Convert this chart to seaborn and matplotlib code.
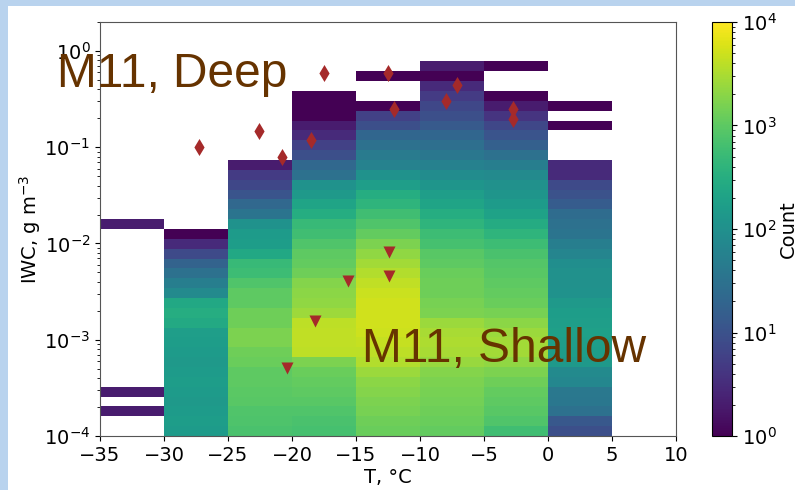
import numpy as np
import pandas as pd
import matplotlib
matplotlib.use("Agg")
import matplotlib.pyplot as plt
import seaborn as sns
from matplotlib.patches import Rectangle

# ---------------- data ----------------
# temperature bin edges (deg C)
t_edges = [-35, -30, -25, -20, -15, -10, -5, 0, 5]
# IWC bins: 42 log-spaced bins from 1e-4 to 2 g m-3
log_iwc_lo = -4.0
log_iwc_hi = np.log10(2.0)
n_iwc_bins = 42

# counts per IWC bin (lowest bin first) for each temperature column
counts_m35 = [0, 0, 2, 0, 2, 0, 0, 0, 0, 0, 0, 0, 0, 0, 0, 0, 0, 0, 0, 0, 0, 2]
counts_m30 = [150, 160, 150, 140, 150, 160, 150, 140, 150, 160, 170, 260, 300, 250,
              80, 50, 30, 18, 8, 3, 1]
counts_m25 = [700, 750, 800, 900, 950, 1000, 1000, 1200, 1300, 1600, 1600, 1300, 1300,
              1000, 1000, 800, 550, 500, 250, 160, 150, 110, 35, 22, 11, 7, 5, 2]
counts_m20 = [650, 700, 800, 900, 1000, 1100, 1200, 1600, 4000, 4200, 4200, 4000, 2600,
              2200, 2000, 1800, 1300, 1100, 1000, 800, 600, 500, 300, 220, 140, 110,
              30, 22, 9, 6, 3, 2, 1, 1, 1]
counts_m15 = [1200, 1300, 1500, 1600, 1800, 2000, 2500, 3500, 4000, 4500, 5000, 5200,
              5200, 5200, 4800, 4200, 3500, 2800, 2200, 1600, 1100, 800, 600, 400, 300,
              170, 110, 60, 45, 30, 20, 9, 6, 1, 0, 0, 1]
counts_m10 = [1100, 1200, 1300, 1400, 1500, 1600, 1800, 2400, 3000, 3200, 3000, 2500,
              1600, 1500, 1300, 1300, 1200, 1000, 900, 650, 550, 400, 300, 220, 170,
              120, 85, 55, 38, 28, 20, 13, 9, 7, 5, 3, 1, 2]
counts_m5 = [600, 800, 900, 1000, 1100, 1300, 1600, 2200, 2800, 2800, 2500, 2000, 1500,
             1200, 1100, 1000, 900, 850, 700, 550, 400, 280, 200, 150, 120, 100, 80, 50,
             30, 16, 11, 7, 4, 2, 1, 0, 0, 1]
counts_p0 = [9, 12, 30, 38, 40, 70, 80, 140, 160, 170, 180, 170, 160, 140, 110, 100, 100,
             90, 65, 50, 35, 30, 25, 14, 10, 8, 3, 3, 0, 0, 0, 1, 0, 1]
column_counts = [counts_m35, counts_m30, counts_m25, counts_m20,
                 counts_m15, counts_m10, counts_m5, counts_p0]

# M11 estimates
deep_t = [-27.3, -22.6, -20.8, -18.5, -17.5, -12.5, -12.0, -8.0, -7.1, -2.7, -2.7]
deep_iwc = [0.10, 0.148, 0.080, 0.12, 0.59, 0.59, 0.25, 0.30, 0.445, 0.25, 0.196]
shallow_t = [-20.4, -18.2, -15.6, -12.4, -12.4]
shallow_iwc = [0.00051, 0.00156, 0.0041, 0.00455, 0.0081]

# ---------------- build histogram input ----------------
bin_w = (log_iwc_hi - log_iwc_lo) / n_iwc_bins
y_edges_log = np.linspace(log_iwc_lo, log_iwc_hi, n_iwc_bins + 1)
rows = []
for i, col in enumerate(column_counts):
    tc = (t_edges[i] + t_edges[i + 1]) / 2
    for k, c in enumerate(col):
        if c > 0:
            rows.append((tc, 10 ** (log_iwc_lo + (k + 0.5) * bin_w), c))
df = pd.DataFrame(rows, columns=["T", "IWC", "count"])

# ---------------- figure ----------------
W, H = 795, 490
fig = plt.figure(figsize=(W / 100, H / 100), dpi=100, facecolor="#b9d3ee")
fig.add_artist(Rectangle((8 / W, 0), 1, 1 - 6 / H, transform=fig.transFigure,
                         facecolor="white", edgecolor="none", zorder=-10))

ax = fig.add_axes([100 / W, 54 / H, 576 / W, 414 / H])
cax = fig.add_axes([712 / W, 54 / H, 20 / W, 414 / H])

sns.histplot(data=df, x="T", y="IWC", weights="count",
             bins=(t_edges, y_edges_log), log_scale=(False, True),
             cmap="viridis", norm="log", vmin=1, vmax=1e4,
             cbar=True, cbar_ax=cax, ax=ax)

sns.scatterplot(x=deep_t, y=deep_iwc, marker="d", s=75, color="#a52a2a",
                linewidth=0, ax=ax, zorder=3)
sns.scatterplot(x=shallow_t, y=shallow_iwc, marker="v", s=75, color="#a52a2a",
                linewidth=0, ax=ax, zorder=3)

ax.set_xlim(-35, 10)
ax.set_ylim(1e-4, 2)
ax.set_xticks(list(range(-35, 11, 5)))
ax.set_xlabel("T, °C", fontsize=14, labelpad=2)
ax.set_ylabel("IWC, g m$^{-3}$", fontsize=14, labelpad=1)
ax.tick_params(labelsize=14)
for s in ax.spines.values():
    s.set_color("#555555")
cax.tick_params(labelsize=14)
cax.set_ylabel("Count", fontsize=14, labelpad=2)

fig.text(57 / W, 1 - 87 / H, "M11, Deep", fontsize=34.5, color="#663300",
         family="Liberation Sans", ha="left", va="baseline")
fig.text(362 / W, 1 - 362 / H, "M11, Shallow", fontsize=34.5, color="#663300",
         family="Liberation Sans", ha="left", va="baseline")

fig.savefig("out.png", dpi=100, facecolor=fig.get_facecolor())
